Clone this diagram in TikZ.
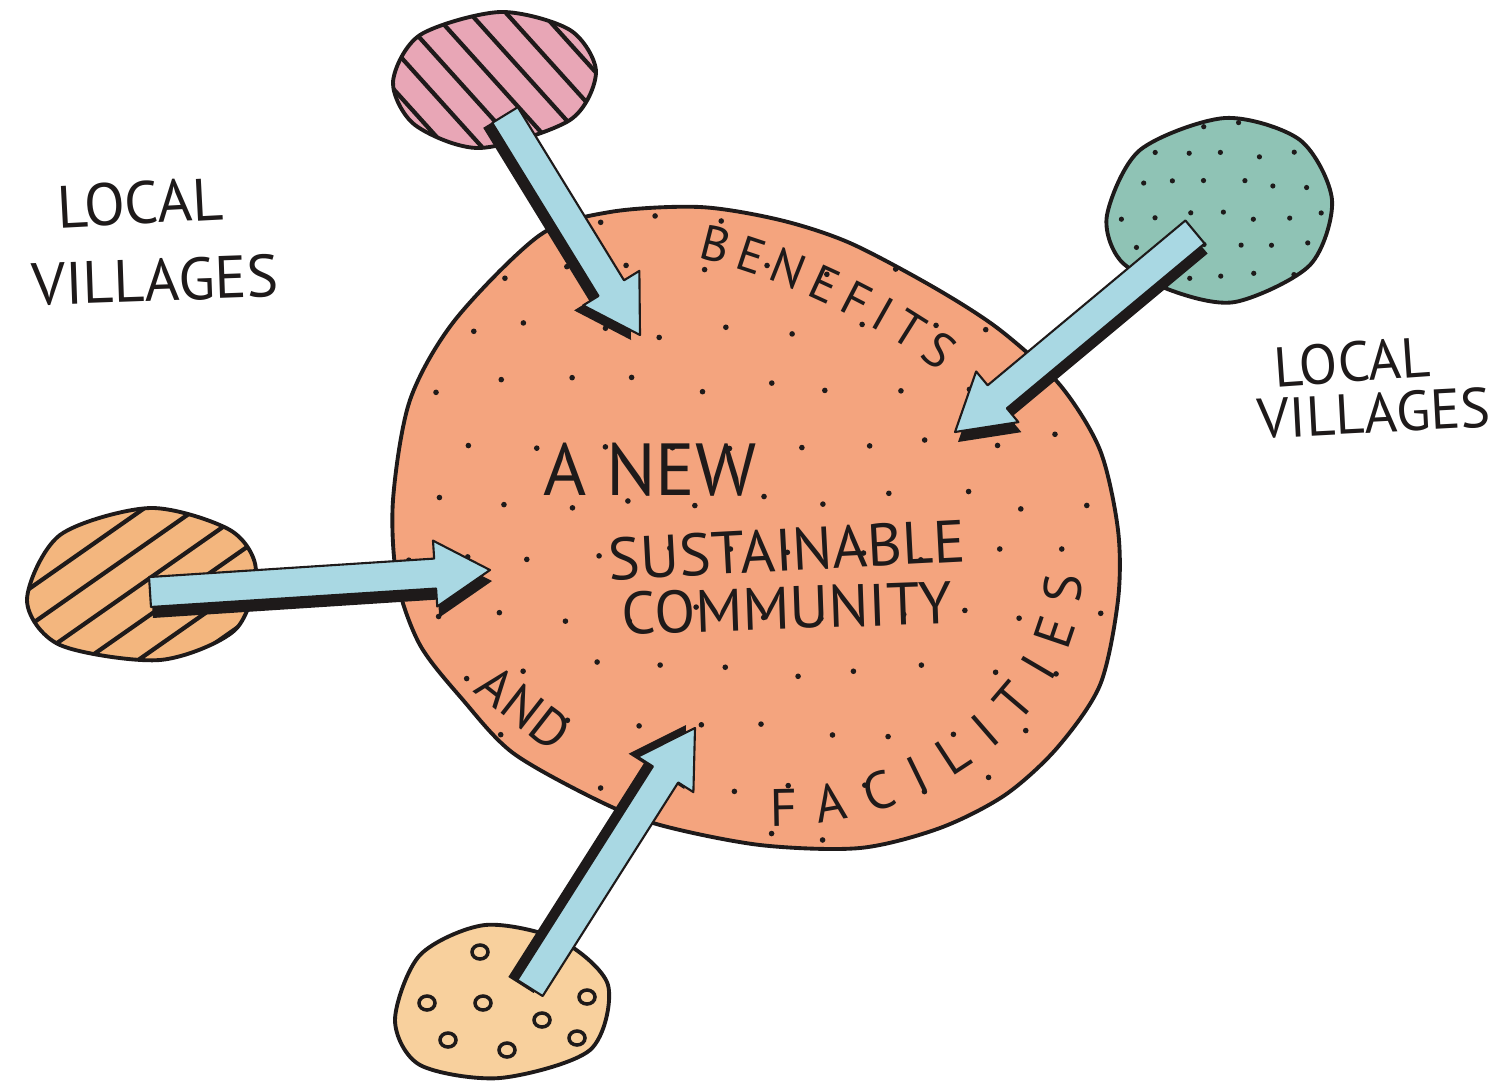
\documentclass[tikz,border=0pt]{standalone}
\usepackage{fontspec}
\setmainfont{PT Sans}
\usetikzlibrary{calc,decorations.text}
\definecolor{bigorange}{HTML}{F4A47E}
\definecolor{pinkblob}{HTML}{E8A6B6}
\definecolor{tealblob}{HTML}{8FC3B5}
\definecolor{leftblob}{HTML}{F3B67E}
\definecolor{lowblob}{HTML}{F8D09D}
\definecolor{arrowblue}{HTML}{A9D8E3}
\definecolor{ink}{HTML}{1E1A1A}
\tikzstyle{blob}=[draw=ink, line width=1.1pt]
\tikzstyle{hand}=[text=ink, inner sep=0pt, font=\fontsize{17}{17}\selectfont]
\tikzstyle{big}=[text=ink, inner sep=0pt, font=\fontsize{21}{21}\selectfont]
\tikzstyle{mid}=[text=ink, inner sep=0pt, font=\fontsize{17}{17}\selectfont]
\tikzstyle{small}=[text=ink, inner sep=0pt, font=\fontsize{15}{15}\selectfont]
\newcommand{\fatarrow}[3]{%
  \fill[ink, transform canvas={shift={#3}}] ($(#1)!1.5mm!90:(#2)$) -- ($($(#2)!5.5mm!(#1)$)!1.5mm!90:(#2)$)
    -- ($($(#2)!5.5mm!(#1)$)!3.3mm!90:(#2)$) -- (#2) -- ($($(#2)!5.5mm!(#1)$)!3.3mm!-90:(#2)$)
    -- ($($(#2)!5.5mm!(#1)$)!1.5mm!-90:(#2)$) -- ($(#1)!1.5mm!-90:(#2)$) -- cycle;
  \filldraw[fill=arrowblue, draw=ink, line width=0.6pt, line join=round]
    ($(#1)!1.5mm!90:(#2)$) -- ($($(#2)!5.5mm!(#1)$)!1.5mm!90:(#2)$)
    -- ($($(#2)!5.5mm!(#1)$)!3.3mm!90:(#2)$) -- (#2) -- ($($(#2)!5.5mm!(#1)$)!3.3mm!-90:(#2)$)
    -- ($($(#2)!5.5mm!(#1)$)!1.5mm!-90:(#2)$) -- ($(#1)!1.5mm!-90:(#2)$) -- cycle;}

\begin{document}
\begin{tikzpicture}[x=0.1mm, y=-0.1mm]
  \useasboundingbox (0,0) rectangle (1500,1081);
  \pgfmathsetseed{11}
  \path[blob, fill=bigorange, path picture={
      \foreach \i in {0,...,11} \foreach \j in {0,...,11}
        \fill[ink] ({400+\i*66+mod(\j,2)*33+9*rand}, {215+\j*57+9*rand}) circle (2.8);}]
    plot[smooth cycle] coordinates {(393,500) (410,400) (455,320) (540,235) (610,212)
      (700,207) (780,220) (850,243) (935,288) (1000,330) (1060,385) (1100,450)
      (1118,530) (1118,600) (1100,685) (1057,748) (1005,795) (940,828) (860,848)
      (760,845) (660,825) (597,800) (513,753) (463,700) (420,645) (397,580)};
  \path[blob, fill=pinkblob, path picture={
      \foreach \k in {-5,...,5}
        \draw[ink, line width=1.2pt] ({494+\k*20-110}, {80-\k*18-122}) -- ({494+\k*20+110}, {80-\k*18+122});}]
    plot[smooth cycle] coordinates {(393,82) (420,35) (500,12) (570,30) (596,72)
      (570,120) (480,148) (415,125)};
  \path[blob, fill=tealblob, path picture={
      \foreach \i in {0,...,7} \foreach \j in {0,...,6}
        \fill[ink] ({1105+\i*34+mod(\j,2)*17+5*rand}, {125+\j*30+5*rand}) circle (2.6);}]
    plot[smooth cycle] coordinates {(1107,215) (1140,150) (1225,118) (1300,140)
      (1332,200) (1310,265) (1235,302) (1170,290) (1120,260)};
  \path[blob, fill=leftblob, path picture={
      \foreach \k in {-6,...,6}
        \draw[ink, line width=1.2pt] ({140+\k*17-140}, {585+\k*25+98}) -- ({140+\k*17+140}, {585+\k*25-98});}]
    plot[smooth cycle] coordinates {(27,600) (60,535) (150,508) (230,530) (256,570)
      (235,630) (160,660) (60,645)};
  \path[blob, fill=lowblob]
    plot[smooth cycle] coordinates {(395,1020) (420,955) (485,925) (560,940) (608,985)
      (590,1050) (500,1078) (420,1065)};
  \foreach \p in {(480,952), (427,1003), (483,1003), (542,1020), (587,997),
      (448,1040), (507,1050), (577,1038)}
    \draw[ink, line width=1pt] \p ellipse [x radius=8, y radius=7];

  \node[hand, rotate=3] (lvA) at (140,203) {LOCAL};
  \node[hand, rotate=2] (lvB) at (155,280) {VILLAGES};
  \node[hand, rotate=4, font=\fontsize{16}{16}\selectfont] (rvA) at (1352,362) {LOCAL};
  \node[hand, rotate=3, font=\fontsize{16}{16}\selectfont] (rvB) at (1374,413) {VILLAGES};
  \node[big] (anew) at (650,470) {A NEW};
  \node[mid, rotate=3] (sust) at (787,550) {SUSTAINABLE};
  \node[mid, rotate=2] (comm) at (787,608) {COMMUNITY};
  \node[small, rotate=-38] (and) at (524,708) {AND};
  \path[decorate, decoration={text along path, text align=fit to path,
      text={|\fontsize{14}{14}\selectfont\color{ink}|BENEFITS}}]
    (697,258) .. controls (775,275) and (877,323) .. (940,372);
  \path[decorate, decoration={text along path, text align=fit to path,
      text={|\fontsize{15}{15}\selectfont\color{ink}|FACILITIES}}]
    (770,826) .. controls (930,830) and (1085,710) .. (1082,575);

  \coordinate (pinkTail) at (505,115);
  \coordinate (pinkTip) at (640,335);
  \coordinate (tealTail) at (1195,232);
  \coordinate (tealTip) at (955,432);
  \coordinate (leftTail) at (150,592);
  \coordinate (leftTip) at (490,570);
  \coordinate (lowTail) at (530,988);
  \coordinate (lowTip) at (695,728);
  \fatarrow{pinkTail}{pinkTip}{(-9,5)}
  \fatarrow{tealTail}{tealTip}{(3,10)}
  \fatarrow{leftTail}{leftTip}{(2,11)}
  \fatarrow{lowTail}{lowTip}{(-9,-3)}
\end{tikzpicture}
\end{document}
